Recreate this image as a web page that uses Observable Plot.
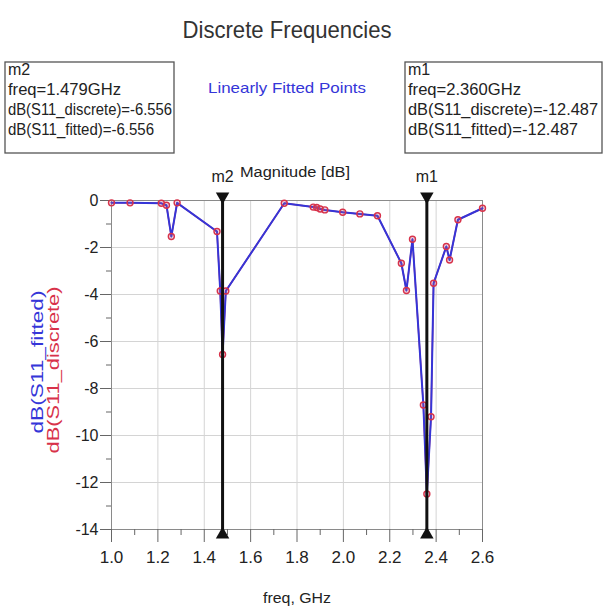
<!DOCTYPE html>
<html>
<head>
<meta charset="utf-8">
<script src="https://cdn.jsdelivr.net/npm/d3@7"></script>
<script src="https://cdn.jsdelivr.net/npm/@observablehq/plot@0.6"></script>
<style>
  body { margin: 0; background: #fff; }
  #chart svg { display: block; }
</style>
</head>
<body>
<div id="chart"></div>
<script>
// ---- data ----
const freqGHz = [1.00, 1.08, 1.215, 1.237, 1.258, 1.283, 1.455, 1.469, 1.479, 1.493,
  1.745, 1.870, 1.885, 1.900, 1.920, 1.997, 2.071, 2.147, 2.250, 2.272, 2.298,
  2.345, 2.360, 2.378, 2.389, 2.444, 2.458, 2.494, 2.600];
const s11DiscreteDb = [-0.10, -0.10, -0.12, -0.20, -1.53, -0.10, -1.32, -3.85, -6.556, -3.85,
  -0.12, -0.28, -0.30, -0.36, -0.40, -0.50, -0.57, -0.65, -2.67, -3.83, -1.65,
  -8.70, -12.487, -9.20, -3.52, -1.96, -2.53, -0.82, -0.33];
const s11FittedDb = [-0.10, -0.10, -0.12, -0.20, -1.53, -0.10, -1.32, -3.85, -6.556, -3.85,
  -0.12, -0.28, -0.30, -0.36, -0.40, -0.50, -0.57, -0.65, -2.67, -3.83, -1.65,
  -8.70, -12.487, -9.20, -3.52, -1.96, -2.53, -0.82, -0.33];
const markerNames = ["m2", "m1"];
const markerFreqs = [1.479, 2.360];
const xTicks = [1.0, 1.2, 1.4, 1.6, 1.8, 2.0, 2.2, 2.4, 2.6];
const xMinorTicks = [1.1, 1.3, 1.5, 1.7, 1.9, 2.1, 2.3, 2.5];
const yTicks = [0, -2, -4, -6, -8, -10, -12, -14];
const yMinorTicks = [-1, -3, -5, -7, -9, -11, -13];

const table = freqGHz.map((f, i) => ({f, discrete: s11DiscreteDb[i], fitted: s11FittedDb[i]}));
const markers = markerFreqs.map((f, i) => ({f, name: markerNames[i]}));

const BLUE = "#3535d8";
const RED = "#d8324a";
const FONT = "'Liberation Sans', Arial, sans-serif";

const plot = Plot.plot({
  width: 603,
  height: 612,
  marginLeft: 111,
  marginRight: 121,
  marginTop: 200,
  marginBottom: 83,
  style: {fontFamily: FONT, background: "#fff", color: "#222"},
  x: {domain: [1.0, 2.6], label: null},
  y: {domain: [-14, 0], label: null},
  marks: [
    Plot.gridX({ticks: xTicks, stroke: "#d4d4d4", strokeOpacity: 1}),
    Plot.gridY({ticks: yTicks, stroke: "#d4d4d4", strokeOpacity: 1}),
    Plot.frame({stroke: "#8a8a8a"}),
    Plot.axisY({ticks: yTicks, tickSize: 11, tickPadding: 2, fontSize: 16, stroke: "#666",
      tickFormat: d => String(d), label: null}),
    Plot.axisY({ticks: yMinorTicks, tickSize: 5, stroke: "#666", tickFormat: () => "", label: null}),
    Plot.axisX({ticks: xTicks, tickSize: 13, tickPadding: 8, fontSize: 17, stroke: "#666",
      tickFormat: d => d.toFixed(1), label: null}),
    Plot.axisX({ticks: xMinorTicks, tickSize: 6, stroke: "#666", tickFormat: () => "", label: null}),
    Plot.line(table, {x: "f", y: "discrete", stroke: RED, strokeWidth: 1.5}),
    Plot.line(table, {x: "f", y: "fitted", stroke: BLUE, strokeWidth: 2}),
    Plot.dot(table, {x: "f", y: "discrete", r: 3, stroke: RED, strokeWidth: 1.4, fill: "#b06090", fillOpacity: 0.25}),
    Plot.ruleX(markers, {x: "f", y1: 0.25, y2: -14.3, stroke: "#111", strokeWidth: 3}),
    Plot.dot(markers, {x: "f", y: 0, dy: -4, symbol: "triangle", r: 5, fill: "#111", stroke: "none", rotate: 180}),
    Plot.dot(markers, {x: "f", y: -14, dy: 5, symbol: "triangle", r: 5, fill: "#111", stroke: "none"}),
    Plot.text(markers, {x: "f", y: 0, text: "name", dy: -24, fontSize: 16, fill: "#222"})
  ]
});

document.getElementById("chart").appendChild(plot);

// ---- static annotations ----
const svg = d3.select(plot);
function addText(str, x, y, opts = {}) {
  const t = svg.append("text")
    .attr("x", x).attr("y", y)
    .attr("font-family", FONT)
    .attr("font-size", opts.size || 15)
    .attr("fill", opts.fill || "#222")
    .attr("text-anchor", opts.anchor || "start")
    .text(str);
  if (opts.len) t.attr("textLength", opts.len).attr("lengthAdjust", "spacingAndGlyphs");
  if (opts.rotate) t.attr("transform", `rotate(${opts.rotate},${x},${y})`);
  return t;
}

addText("Discrete Frequencies", 287, 38, {size: 24, anchor: "middle", len: 209, fill: "#333"});

// marker boxes
svg.append("rect").attr("x", 5).attr("y", 62).attr("width", 169).attr("height", 91)
  .attr("fill", "none").attr("stroke", "#555").attr("stroke-width", 1.3);
svg.append("rect").attr("x", 405).attr("y", 62).attr("width", 197).attr("height", 91)
  .attr("fill", "none").attr("stroke", "#555").attr("stroke-width", 1.3);

const leftLines = ["m2", "freq=1.479GHz", "dB(S11_discrete)=-6.556", "dB(S11_fitted)=-6.556"];
const leftLens = [null, 113, 164, 146];
const rightLines = ["m1", "freq=2.360GHz", "dB(S11_discrete)=-12.487", "dB(S11_fitted)=-12.487"];
const rightLens = [null, 113, 190, 170];
const baselines = [75, 95, 115, 135];
leftLines.forEach((s, i) => addText(s, 8, baselines[i], {size: 16, len: leftLens[i]}));
rightLines.forEach((s, i) => addText(s, 408, baselines[i], {size: 16, len: rightLens[i]}));

addText("Linearly Fitted Points", 287, 93, {size: 15, anchor: "middle", len: 158, fill: BLUE});
addText("Magnitude [dB]", 295, 177, {size: 14, anchor: "middle", len: 110});
addText("freq, GHz", 297, 603, {size: 15, anchor: "middle", len: 68});

addText("dB(S11_fitted)", 43, 362, {size: 17, anchor: "middle", len: 143, fill: BLUE, rotate: -90});
addText("dB(S11_discrete)", 59, 370, {size: 17, anchor: "middle", len: 167, fill: RED, rotate: -90});
</script>
</body>
</html>
